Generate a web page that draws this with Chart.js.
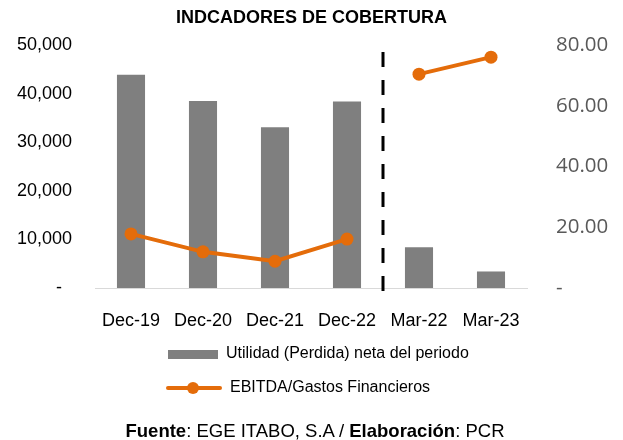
<!DOCTYPE html>
<html>
<head>
<meta charset="utf-8">
<script src="https://cdn.jsdelivr.net/npm/chart.js@4"></script>
<style>
  body { margin: 0; background: #fff; }
  .wrap { position: relative; width: 623px; height: 440px; font-family: "Liberation Sans", Arial, sans-serif; }
  .legend { position: absolute; left: 0; top: 0; width: 623px; height: 440px; pointer-events: none; }
  .item { position: absolute; font-size: 16px; color: #000; white-space: nowrap; }
  .footer { position: absolute; left: 0; width: 630px; top: 420px; text-align: center; font-size: 18.5px; color: #000; }
</style>
</head>
<body>
<div class="wrap">
  <canvas id="coverageChart" width="623" height="440"></canvas>
  <div class="legend" id="legend"></div>
  <div class="footer"><b>Fuente</b>: EGE ITABO, S.A / <b>Elaboración</b>: PCR</div>
</div>
<script>
const periods = ["Dec-19", "Dec-20", "Dec-21", "Dec-22", "Mar-22", "Mar-23"];
const netIncome = [43900, 38500, 33100, 38400, 8400, 3400];
const ebitdaCoverage = [17.8, 11.9, 8.8, 16.1, 70.4, 76.0];
const leftTicks = [0, 10000, 20000, 30000, 40000, 50000];
const rightTicks = [0, 20, 40, 60, 80];

const gray = "#7f7f7f";
const orange = "#e46c0a";

// dashed separator between annual and quarterly periods
const separator = {
    id: "separator",
    afterDatasetsDraw(chart) {
        const x = chart.scales.x;
        const px = (x.getPixelForValue(3) + x.getPixelForValue(4)) / 2;
        const c = chart.ctx;
        c.save();
        c.strokeStyle = "#000";
        c.lineWidth = 3;
        c.setLineDash([15, 13]);
        c.beginPath();
        c.moveTo(px, chart.chartArea.top + 7);
        c.lineTo(px, chart.chartArea.bottom + 10);
        c.stroke();
        c.restore();
    },
};

const chart = new Chart(document.getElementById("coverageChart"), {
    type: "bar",
    data: {
        labels: periods,
        datasets: [
            {
                type: "line",
                label: "EBITDA/Gastos Financieros",
                data: ebitdaCoverage,
                yAxisID: "y1",
                borderColor: orange,
                backgroundColor: orange,
                borderWidth: 4,
                pointRadius: 6.5,
                pointBorderWidth: 0,
                pointBackgroundColor: orange,
                tension: 0,
                order: 0,
                segment: { borderColor: (s) => (s.p0DataIndex === 3 ? "rgba(0,0,0,0)" : orange) },
            },
            {
                label: "Utilidad (Perdida) neta del periodo",
                data: netIncome,
                yAxisID: "y",
                backgroundColor: gray,
                barPercentage: 0.39,
                categoryPercentage: 1,
                order: 1,
            },
        ],
    },
    options: {
        responsive: false,
        animation: false,
        layout: { padding: 0 },
        plugins: {
            legend: { display: false },
            tooltip: { enabled: false },
            title: {
                display: true,
                text: "INDCADORES DE COBERTURA",
                color: "#000",
                font: { family: "Liberation Sans", size: 18, weight: "bold" },
                padding: { top: 7, bottom: 16.4 },
            },
        },
        scales: {
            x: {
                grid: { display: false },
                border: { display: true, color: "#d9d9d9", width: 1 },
                ticks: { color: "#000", font: { family: "Liberation Sans", size: 18 }, padding: 14, maxRotation: 0 },
                afterFit: (s) => { s.height = 152; },
            },
            y: {
                position: "left",
                min: 0,
                max: 50000,
                grid: { display: false, drawTicks: false },
                border: { display: false },
                afterBuildTicks: (s) => { s.ticks = leftTicks.map((v) => ({ value: v })); },
                ticks: {
                    color: "#000",
                    font: { family: "Liberation Sans", size: 18 },
                    padding: 23,
                    callback: (v) => (v === 0 ? "-  " : v.toLocaleString("en-US")),
                },
                afterFit: (s) => { s.width = 95; },
            },
            y1: {
                position: "right",
                min: 0,
                max: 80,
                grid: { display: false, drawTicks: false },
                border: { display: false },
                afterBuildTicks: (s) => { s.ticks = rightTicks.map((v) => ({ value: v })); },
                ticks: {
                    color: "#595959",
                    font: { family: "Open Sans", size: 20.5 },
                    padding: 29,
                    callback: (v) => (v === 0 ? "-" : v.toFixed(2)),
                },
                afterFit: (s) => { s.width = 96; },
            },
        },
    },
    plugins: [separator],
});

// legend stacked under the chart, built from the datasets
const legend = document.getElementById("legend");
const barSet = chart.data.datasets[1];
const lineSet = chart.data.datasets[0];
legend.innerHTML =
    '<div class="item" style="left:168px;top:350px;width:50px;height:9px;background:' + barSet.backgroundColor + '"></div>' +
    '<div class="item" style="left:226px;top:344px;">' + barSet.label + '</div>' +
    '<div class="item" style="left:166px;top:386px;width:56px;height:4px;background:' + lineSet.borderColor + ';border-radius:2px"></div>' +
    '<div class="item" style="left:187px;top:382px;width:12px;height:12px;border-radius:50%;background:' + lineSet.borderColor + '"></div>' +
    '<div class="item" style="left:230px;top:378px;">' + lineSet.label + '</div>';
</script>
</body>
</html>
